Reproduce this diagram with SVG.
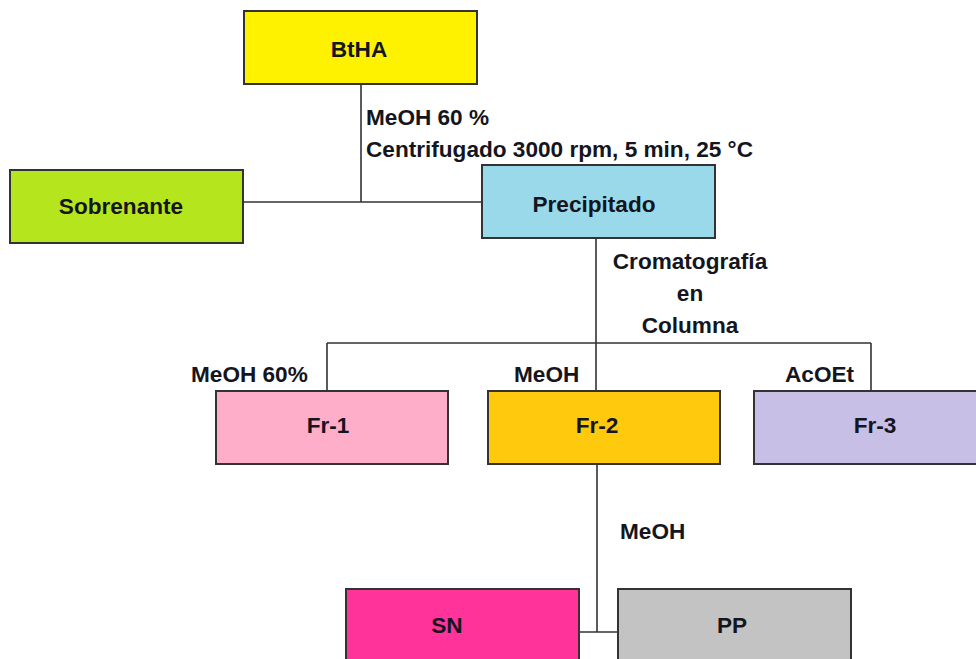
<svg xmlns="http://www.w3.org/2000/svg" width="976" height="659" viewBox="0 0 976 659">
  <style>
    .box { stroke: #333; stroke-width: 2; }
    .lbl { font-family: "Liberation Sans", Arial, sans-serif; font-weight: bold; font-size: 22.6px; fill: #151520; }
    .mid { text-anchor: middle; }
    .wire { fill: none; stroke: #333; stroke-width: 1.6; }
  </style>
  <rect width="976" height="659" fill="#ffffff"/>

  <!-- connectors -->
  <g id="connectors">
    <path class="wire" d="M361 84 V202 M243 202 H482"/>
    <path class="wire" d="M596 238 V391 M327 343 H871 M327 343 V391 M871 343 V391"/>
    <path class="wire" d="M597 464 V632 M579 632 H618"/>
  </g>

  <!-- step labels -->
  <g id="labels">
    <text class="lbl" x="366" y="125">MeOH 60 %</text>
    <text class="lbl" x="366" y="157">Centrifugado 3000 rpm, 5 min, 25 °C</text>
    <text class="lbl mid" x="690" y="269">Cromatografía</text>
    <text class="lbl mid" x="690" y="301">en</text>
    <text class="lbl mid" x="690" y="333">Columna</text>
    <text class="lbl" x="191" y="382">MeOH 60%</text>
    <text class="lbl" x="514" y="382">MeOH</text>
    <text class="lbl" x="785" y="382">AcOEt</text>
    <text class="lbl" x="620" y="539">MeOH</text>
  </g>

  <g id="node-btha">
    <rect class="box" x="244" y="11" width="233" height="73" fill="#FFF200"/>
    <text class="lbl mid" x="359" y="57">BtHA</text>
  </g>
  <g id="node-sobrenante">
    <rect class="box" x="10" y="170" width="233" height="73" fill="#B5E61D"/>
    <text class="lbl mid" x="121" y="214">Sobrenante</text>
  </g>
  <g id="node-precipitado">
    <rect class="box" x="482" y="165" width="233" height="73" fill="#99D9EA"/>
    <text class="lbl mid" x="594" y="212">Precipitado</text>
  </g>
  <g id="node-fr1">
    <rect class="box" x="216" y="391" width="232" height="73" fill="#FFAEC9"/>
    <text class="lbl mid" x="328" y="433">Fr-1</text>
  </g>
  <g id="node-fr2">
    <rect class="box" x="488" y="391" width="232" height="73" fill="#FFC90E"/>
    <text class="lbl mid" x="597" y="433">Fr-2</text>
  </g>
  <g id="node-fr3">
    <rect class="box" x="754" y="391" width="232" height="73" fill="#C8BFE7"/>
    <text class="lbl mid" x="875" y="433">Fr-3</text>
  </g>
  <g id="node-sn">
    <rect class="box" x="346" y="589" width="233" height="80" fill="#FF3399"/>
    <text class="lbl mid" x="447" y="633">SN</text>
  </g>
  <g id="node-pp">
    <rect class="box" x="618" y="589" width="233" height="80" fill="#C3C3C3"/>
    <text class="lbl mid" x="732" y="633">PP</text>
  </g>
</svg>
